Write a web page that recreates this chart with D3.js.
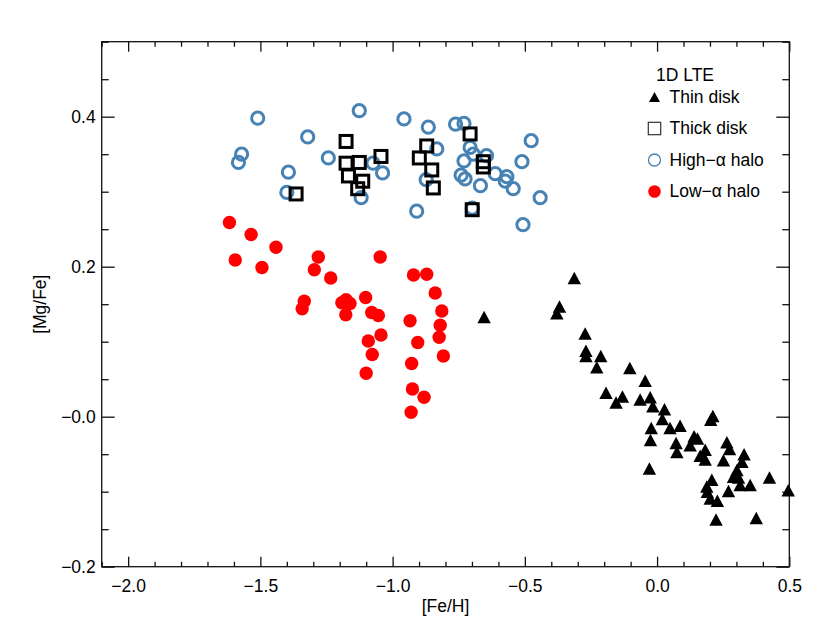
<!DOCTYPE html>
<html>
<head>
<meta charset="utf-8">
<script src="https://cdn.jsdelivr.net/npm/d3@7"></script>
<style>
  html, body { margin: 0; padding: 0; background: #fff; }
  svg text { font-family: "Liberation Sans", Arial, Helvetica, sans-serif; fill: #000; }
</style>
</head>
<body>
<svg id="chart" width="830" height="642"></svg>
<script>
// ---------------- data ----------------
const xTicks = [-2.0, -1.5, -1.0, -0.5, 0.0, 0.5];
const xTickLabels = ["\u22122.0", "\u22121.5", "\u22121.0", "\u22120.5", "0.0", "0.5"];
const yTicks = [-0.2, 0.0, 0.2, 0.4];
const yTickLabels = ["\u22120.2", "\u22120.0", "0.2", "0.4"];
const xLabel = "[Fe/H]";
const yLabel = "[Mg/Fe]";
const legendTitle = "1D LTE";
const seriesNames = ["Thin disk", "Thick disk", "High\u2212\u03b1 halo", "Low\u2212\u03b1 halo"];

// [Fe/H], [Mg/Fe]
const thinDisk = [
  [-0.313,0.185],[-0.369,0.147],[-0.379,0.138],[-0.654,0.133],[-0.272,0.111],[-0.269,0.088],
  [-0.269,0.081],[-0.213,0.081],[-0.228,0.066],[-0.103,0.065],[-0.045,0.048],[-0.193,0.032],
  [-0.155,0.019],[-0.131,0.027],[-0.064,0.023],[-0.026,0.026],[-0.016,0.014],[0.028,0.010],
  [0.020,-0.003],[-0.022,-0.015],[-0.025,-0.031],[-0.029,-0.069],[0.049,-0.015],[0.087,-0.012],
  [0.072,-0.035],[0.075,-0.047],[0.211,0.001],[0.203,-0.004],[0.125,-0.038],[0.140,-0.026],
  [0.153,-0.029],[0.182,-0.044],[0.163,-0.052],[0.182,-0.057],[0.264,-0.034],[0.274,-0.043],
  [0.251,-0.058],[0.329,-0.050],[0.321,-0.060],[0.302,-0.071],[0.289,-0.080],[0.308,-0.081],
  [0.314,-0.091],[0.352,-0.091],[0.425,-0.081],[0.496,-0.098],[0.270,-0.099],[0.207,-0.084],
  [0.188,-0.093],[0.190,-0.100],[0.201,-0.109],[0.228,-0.112],[0.223,-0.137],[0.375,-0.135]
];
const thickDisk = [
  [-1.176,0.367],[-1.176,0.338],[-1.126,0.339],[-1.044,0.347],[-1.167,0.321],[-1.113,0.314],
  [-1.132,0.304],[-1.365,0.297],[-0.871,0.361],[-0.899,0.345],[-0.852,0.329],[-0.846,0.305],
  [-0.707,0.377],[-0.657,0.340],[-0.657,0.333],[-0.699,0.276]
];
const highAlphaHalo = [
  [-1.510,0.398],[-1.126,0.408],[-1.321,0.373],[-1.571,0.350],[-1.583,0.339],[-1.243,0.345],
  [-1.394,0.326],[-1.400,0.299],[-1.119,0.292],[-1.074,0.338],[-1.038,0.325],[-0.957,0.397],
  [-0.865,0.386],[-0.762,0.390],[-0.730,0.391],[-0.833,0.357],[-0.707,0.359],[-0.695,0.350],
  [-0.645,0.348],[-0.730,0.341],[-0.741,0.322],[-0.726,0.317],[-0.873,0.316],[-0.668,0.308],
  [-0.612,0.324],[-0.568,0.320],[-0.574,0.314],[-0.544,0.304],[-0.511,0.340],[-0.476,0.368],
  [-0.442,0.292],[-0.909,0.274],[-0.699,0.278],[-0.507,0.256]
];
const lowAlphaHalo = [
  [-1.617,0.259],[-1.535,0.243],[-1.441,0.226],[-1.595,0.209],[-1.494,0.199],[-1.281,0.213],
  [-1.296,0.196],[-1.234,0.185],[-1.334,0.154],[-1.342,0.144],[-1.047,0.213],[-0.921,0.189],
  [-0.871,0.190],[-0.839,0.165],[-0.814,0.141],[-0.820,0.122],[-0.824,0.106],[-0.808,0.081],
  [-0.934,0.128],[-0.905,0.099],[-0.928,0.071],[-0.925,0.037],[-0.881,0.026],[-0.930,0.006],
  [-1.102,0.159],[-1.192,0.152],[-1.161,0.151],[-1.177,0.136],[-1.176,0.156],[-1.079,0.139],
  [-1.054,0.135],[-1.044,0.109],[-1.092,0.101],[-1.077,0.083],[-1.100,0.058]
];

// ---------------- layout ----------------
const svg = d3.select("#chart");
const L = 101.7, R = 789.3, T = 41.7, B = 566.7;
const x = d3.scaleLinear().domain([-2.1, 0.5]).range([L, R]);
const y = d3.scaleLinear().domain([-0.2, 0.5]).range([B, T]);

const xMinor = d3.range(-21, 6).map(i => i / 10).filter(v => !xTicks.some(t => Math.abs(t - v) < 1e-6));
const yMinor = d3.range(-4, 11).map(i => i * 0.05).filter(v => !yTicks.some(t => Math.abs(t - v) < 1e-6));

const axisColor = "#111";
function styleAxis(g) {
  g.select(".domain").remove();
  g.selectAll(".tick line").attr("stroke", axisColor).attr("stroke-width", 1.3);
  g.selectAll(".tick text").attr("font-size", 17.5).attr("fill", "#000");
}

// bottom
svg.append("g").attr("transform", `translate(0,${B})`)
  .call(d3.axisBottom(x).tickValues(xTicks).tickFormat((d, i) => xTickLabels[i]).tickSizeInner(-10).tickSizeOuter(0).tickPadding(13))
  .call(styleAxis);
svg.append("g").attr("transform", `translate(0,${B})`)
  .call(d3.axisBottom(x).tickValues(xMinor).tickFormat("").tickSizeInner(-5).tickSizeOuter(0))
  .call(styleAxis);
// top
svg.append("g").attr("transform", `translate(0,${T})`)
  .call(d3.axisTop(x).tickValues(xTicks).tickFormat("").tickSizeInner(-10).tickSizeOuter(0))
  .call(styleAxis);
svg.append("g").attr("transform", `translate(0,${T})`)
  .call(d3.axisTop(x).tickValues(xMinor).tickFormat("").tickSizeInner(-5).tickSizeOuter(0))
  .call(styleAxis);
// left
svg.append("g").attr("transform", `translate(${L},0)`)
  .call(d3.axisLeft(y).tickValues(yTicks).tickFormat((d, i) => yTickLabels[i]).tickSizeInner(-13).tickSizeOuter(0).tickPadding(6))
  .call(styleAxis);
svg.append("g").attr("transform", `translate(${L},0)`)
  .call(d3.axisLeft(y).tickValues(yMinor).tickFormat("").tickSizeInner(-7).tickSizeOuter(0))
  .call(styleAxis);
// right
svg.append("g").attr("transform", `translate(${R},0)`)
  .call(d3.axisRight(y).tickValues(yTicks).tickFormat("").tickSizeInner(-13).tickSizeOuter(0))
  .call(styleAxis);
svg.append("g").attr("transform", `translate(${R},0)`)
  .call(d3.axisRight(y).tickValues(yMinor).tickFormat("").tickSizeInner(-7).tickSizeOuter(0))
  .call(styleAxis);

// frame
svg.append("rect").attr("x", L).attr("y", T).attr("width", R - L).attr("height", B - T)
  .attr("fill", "none").attr("stroke", axisColor).attr("stroke-width", 1.3);

// axis titles
svg.append("text").attr("x", (L + R) / 2).attr("y", 612).attr("text-anchor", "middle")
  .attr("font-size", 17.5).text(xLabel);
svg.append("text").attr("transform", `translate(46,${(T + B) / 2}) rotate(-90)`).attr("text-anchor", "middle")
  .attr("font-size", 17.5).text(yLabel);

// ---------------- marks ----------------
const triangle = (w, h) => ({
  draw(ctx) {
    ctx.moveTo(0, -h / 2);
    ctx.lineTo(w / 2, h / 2);
    ctx.lineTo(-w / 2, h / 2);
    ctx.closePath();
  }
});
const blue = "#4682b4";
const plot = svg.append("g");

plot.append("g").selectAll("path").data(thinDisk).join("path")
  .attr("transform", d => `translate(${x(d[0])},${y(d[1])})`)
  .attr("d", d3.symbol(triangle(13.4, 12.4))())
  .attr("fill", "#000");

plot.append("g").selectAll("circle").data(lowAlphaHalo).join("circle")
  .attr("cx", d => x(d[0])).attr("cy", d => y(d[1])).attr("r", 6.7)
  .attr("fill", "#ff0000");

plot.append("g").selectAll("circle").data(highAlphaHalo).join("circle")
  .attr("cx", d => x(d[0])).attr("cy", d => y(d[1])).attr("r", 6.1)
  .attr("fill", "none").attr("stroke", blue).attr("stroke-width", 3);

plot.append("g").selectAll("rect").data(thickDisk).join("rect")
  .attr("x", d => x(d[0]) - 6).attr("y", d => y(d[1]) - 6)
  .attr("width", 12).attr("height", 12)
  .attr("fill", "none").attr("stroke", "#000").attr("stroke-width", 3);

// ---------------- legend ----------------
const lg = svg.append("g");
lg.append("text").attr("x", 656).attr("y", 80.7).attr("font-size", 17.5).text(legendTitle);
const rowY = [97, 128.5, 160, 191.5];
const sx = 654.5;
lg.append("path").attr("transform", `translate(${sx},${rowY[0]})`)
  .attr("d", d3.symbol(triangle(11, 10))()).attr("fill", "#000");
lg.append("rect").attr("x", sx - 6.2).attr("y", rowY[1] - 6.2).attr("width", 12.4).attr("height", 12.4)
  .attr("fill", "none").attr("stroke", "#333").attr("stroke-width", 1.2);
lg.append("circle").attr("cx", sx).attr("cy", rowY[2]).attr("r", 6)
  .attr("fill", "none").attr("stroke", blue).attr("stroke-width", 1.3);
lg.append("circle").attr("cx", sx).attr("cy", rowY[3]).attr("r", 6.3).attr("fill", "#ff0000");
seriesNames.forEach((s, i) => {
  lg.append("text").attr("x", 669.5).attr("y", rowY[i] + 5.5).attr("font-size", 17.5).text(s);
});
</script>
</body>
</html>
